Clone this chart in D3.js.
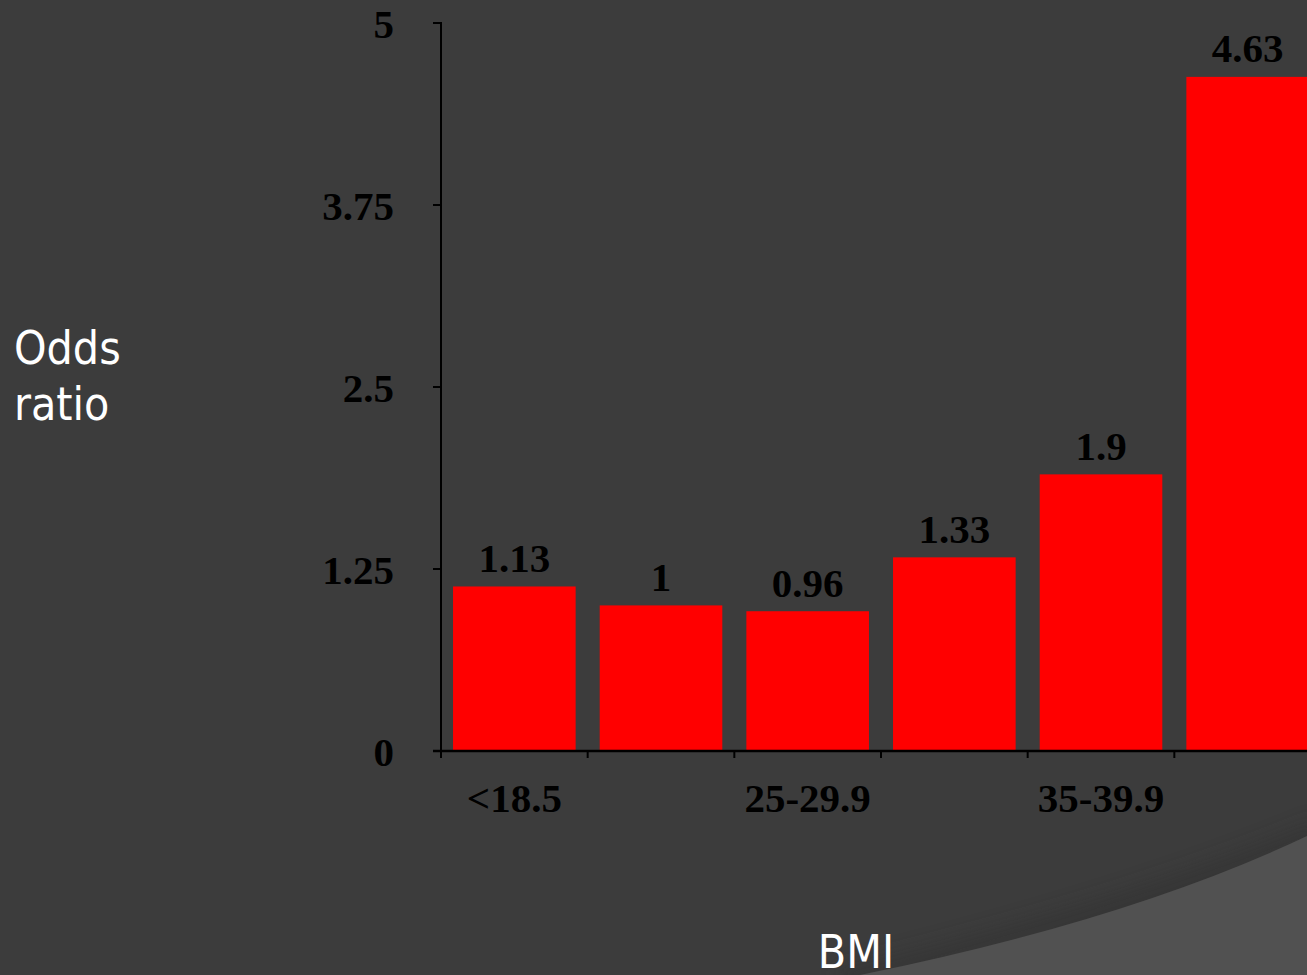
<!DOCTYPE html>
<html><head><meta charset="utf-8">
<script src="https://cdn.jsdelivr.net/npm/d3@7"></script>
<style>html,body{margin:0;padding:0;background:#3c3c3c;overflow:hidden}svg{display:block}</style>
</head><body>
<svg id="c" width="1307" height="975"></svg>
<script>
const categories = ["<18.5", "18.5-24.9", "25-29.9", "30-34.9", "35-39.9", "\u226540"];
const oddsRatios = [1.13, 1, 0.96, 1.33, 1.9, 4.63];
const valueLabels = ["1.13", "1", "0.96", "1.33", "1.9", "4.63"];
const yTicks = [0, 1.25, 2.5, 3.75, 5];
const yTickLabels = ["0", "1.25", "2.5", "3.75", "5"];
const shownXLabels = ["<18.5", "25-29.9", "35-39.9"];

const W = 1307, H = 975;
const svg = d3.select("#c");
const defs = svg.append("defs");
const blur = defs.append("filter").attr("id","blur").attr("x","-20%").attr("y","-50%").attr("width","140%").attr("height","200%");
blur.append("feGaussianBlur").attr("stdDeviation", 10);

// background
svg.append("rect").attr("width",W).attr("height",H).attr("fill","#3c3c3c");
// decorative swoosh bottom-right
const curve = "M 860 975 Q 1130 920 1307 836";
svg.append("path").attr("d", "M 840 990 Q 1130 935 1320 846 L 1320 820 Q 1130 900 840 970 Z")
  .attr("fill","#2f2f2f").attr("opacity",0.45).attr("filter","url(#blur)");
svg.append("path").attr("d", curve + " L 1307 975 Z").attr("fill","#515151");

const x = d3.scaleBand().domain(categories).range([441, 1321]).paddingInner(0.164).paddingOuter(0.082);
const y = d3.scaleLinear().domain([0, 5]).range([751, 23]);

const serif = "'Liberation Serif','Times New Roman',serif";
const fs = 41;

// bars
svg.append("g").selectAll("rect").data(categories).join("rect")
  .attr("x", d => x(d)).attr("width", x.bandwidth())
  .attr("y", (d,i) => y(oddsRatios[i])).attr("height", (d,i) => y(0) - y(oddsRatios[i]))
  .attr("fill", "#ff0000");

// value labels
svg.append("g").selectAll("text").data(categories).join("text")
  .attr("x", d => x(d) + x.bandwidth()/2)
  .attr("y", (d,i) => y(oddsRatios[i]) - 14.5)
  .attr("text-anchor","middle").attr("font-family", serif).attr("font-weight","bold")
  .attr("font-size", fs).attr("fill","#000").text((d,i) => valueLabels[i]);

// y axis
const yAxis = svg.append("g");
yAxis.append("line").attr("x1", 441).attr("x2", 441).attr("y1", y(5) - 1).attr("y2", y(0) + 7)
  .attr("stroke","#000").attr("stroke-width",2);
yAxis.selectAll("line.t").data(yTicks).join("line").attr("class","t")
  .attr("x1", 433).attr("x2", 441).attr("y1", d => y(d)).attr("y2", d => y(d))
  .attr("stroke","#000").attr("stroke-width",2);
yAxis.selectAll("text").data(yTicks).join("text")
  .attr("x", 394).attr("y", d => y(d) + 15)
  .attr("text-anchor","end").attr("font-family", serif).attr("font-weight","bold")
  .attr("font-size", fs).attr("fill","#000").text((d,i) => yTickLabels[i]);

// x axis
const xAxis = svg.append("g");
xAxis.append("line").attr("x1", 433).attr("x2", W + 20).attr("y1", y(0)).attr("y2", y(0))
  .attr("stroke","#000").attr("stroke-width",2.5);
const bounds = categories.map(d => x(d) - x.step()*x.paddingInner()/2);
xAxis.selectAll("line.t").data(bounds).join("line").attr("class","t")
  .attr("x1", d => d).attr("x2", d => d).attr("y1", y(0)).attr("y2", y(0) + 7)
  .attr("stroke","#000").attr("stroke-width",2);
xAxis.selectAll("text").data(categories.filter(c => shownXLabels.includes(c))).join("text")
  .attr("x", d => x(d) + x.bandwidth()/2).attr("y", 812)
  .attr("text-anchor","middle").attr("font-family", serif).attr("font-weight","bold")
  .attr("font-size", fs).attr("fill","#000").text(d => d);

// axis titles
const sans = "'DejaVu Sans Condensed','DejaVu Sans',sans-serif";
const yt = svg.append("text").attr("font-family", sans).attr("font-size", 46).attr("fill","#fff")
  .attr("font-stretch","condensed");
yt.append("tspan").attr("x", 14).attr("y", 364).text("Odds");
yt.append("tspan").attr("x", 14).attr("y", 420).text("ratio");
svg.append("text").attr("x", 856).attr("y", 968).attr("text-anchor","middle")
  .attr("font-family", sans).attr("font-stretch","condensed").attr("font-size", 46).attr("fill","#fff").text("BMI");
</script>
</body></html>
